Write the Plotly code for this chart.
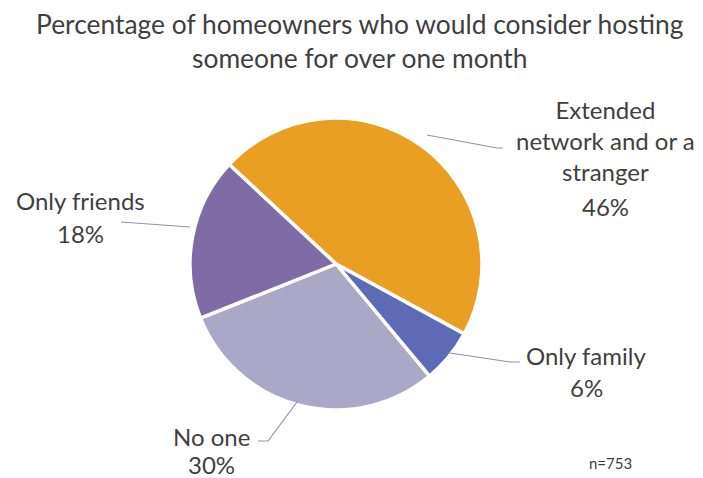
import plotly.graph_objects as go

# Survey answers, clockwise from the upper-left
labels = ["Extended network and or a stranger", "Only family", "No one", "Only friends"]
label_lines = ["Extended<br>network and or a<br>stranger", "Only family", "No one", "Only friends"]
values = [46, 6, 30, 18]
colors = ["#E99F22", "#5D6BB7", "#ABA8C7", "#7F6BA5"]
sample_size = 753

title_text = "Percentage of homeowners who would consider hosting<br>someone for over one month"

W, H = 703, 478
FONT = "Lato, 'Open Sans', sans-serif"
TXT = "#3f3f3f"

fig = go.Figure(go.Pie(
    labels=labels,
    values=values,
    sort=False,
    direction="clockwise",
    rotation=313,
    marker=dict(colors=colors, line=dict(color="white", width=3.5)),
    textinfo="none",
    hoverinfo="label+percent",
    showlegend=False,
    domain=dict(x=[190 / W, 482 / W], y=[1 - 410 / H, 1 - 118 / H]),
))

# label positions (pixels): name line(s) centre, percentage centre
label_pos = [
    ((605, 140), (605, 206)),
    ((586, 355), (586, 387)),
    ((212, 436), (212, 464)),
    ((80, 201), (80, 233)),
]
leaders = [
    [(427, 135), (497, 148), (503, 148)],
    [(450, 353), (510, 362), (520, 362)],
    [(297, 402), (268, 441), (258, 441)],
    [(121, 222), (190, 227)],
]

def px(x, y):
    return x / W, 1 - y / H

annotations = []
for name, v, (npos, vpos) in zip(label_lines, values, label_pos):
    for text, (x, y) in ((name, npos), (f"{v}%", vpos)):
        ax, ay = px(x, y)
        annotations.append(dict(
            text=text, x=ax, y=ay, xref="paper", yref="paper",
            showarrow=False, xanchor="center", yanchor="middle",
            font=dict(family=FONT, size=24, color=TXT),
        ))

tx, ty = px(360, 41)
annotations.append(dict(
    text=title_text, x=tx, y=ty, xref="paper", yref="paper",
    showarrow=False, xanchor="center", yanchor="middle",
    font=dict(family=FONT, size=26.4, color=TXT),
))
nx, ny = px(610, 463)
annotations.append(dict(
    text=f"n={sample_size}", x=nx, y=ny, xref="paper", yref="paper",
    showarrow=False, xanchor="center", yanchor="middle",
    font=dict(family=FONT, size=15, color=TXT),
))

shapes = []
for pts in leaders:
    path = "M " + " L ".join(f"{px(x, y)[0]:.4f},{px(x, y)[1]:.4f}" for x, y in pts)
    shapes.append(dict(type="path", path=path, xref="paper", yref="paper",
                       line=dict(color="#8f8fb0", width=1.2)))

fig.update_layout(
    width=W, height=H,
    margin=dict(l=0, r=0, t=0, b=0),
    paper_bgcolor="white",
    plot_bgcolor="white",
    annotations=annotations,
    shapes=shapes,
)

fig.write_html("out.html")
